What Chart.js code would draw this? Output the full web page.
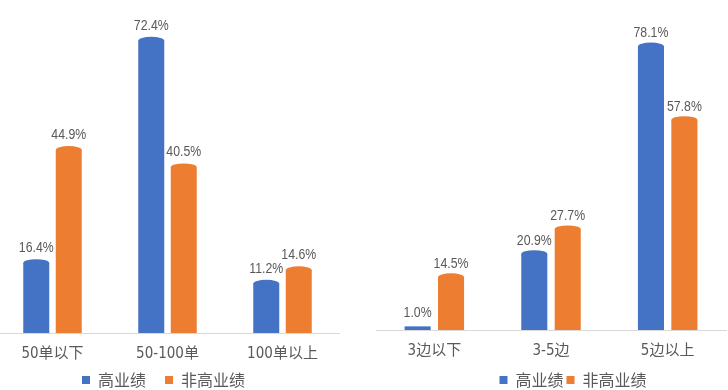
<!DOCTYPE html>
<html><head><meta charset="utf-8">
<script src="https://cdn.jsdelivr.net/npm/chart.js@4.4.1/dist/chart.umd.min.js"></script>
<style>
html,body{margin:0;padding:0;background:#fff;width:728px;height:390px;overflow:hidden;position:relative}
canvas{position:absolute;top:0}
#c1{left:-13px}
#c2{left:376px}
</style></head><body>
<canvas id="c1" width="353" height="408" style="width:353px;height:408px"></canvas>
<canvas id="c2" width="394" height="398" style="width:394px;height:398px"></canvas>
<script>
const seriesNames = ['高业绩', '非高业绩'];
const ordersCategories = ['50单以下', '50-100单', '100单以上'];
const ordersHigh = [16.4, 72.4, 11.2];
const ordersLow = [44.9, 40.5, 14.6];
const sidesCategories = ['3边以下', '3-5边', '5边以上'];
const sidesHigh = [1.0, 20.9, 78.1];
const sidesLow = [14.5, 27.7, 57.8];

const BLUE = '#4472C4', ORANGE = '#ED7D31', TEXT = '#595959', AXIS = '#D9D9D9';
const NUM_FONT = '"Liberation Sans Narrow", "DejaVu Sans Condensed", "Noto Sans CJK SC", sans-serif';
const LABEL_FONT = '"Liberation Sans", Arial, sans-serif';
const CJK_FONT = '"Noto Sans CJK SC", sans-serif';

const cylinderTop = {
  id: 'cylinderTop',
  afterDatasetsDraw(chart) {
    const ctx = chart.ctx;
    chart.data.datasets.forEach((ds, i) => {
      chart.getDatasetMeta(i).data.forEach(bar => {
        const h = bar.base - bar.y;
        if (h > 8) {
          ctx.save();
          ctx.fillStyle = ds.backgroundColor;
          ctx.beginPath();
          ctx.ellipse(bar.x, bar.y, bar.width / 2, 4, 0, 0, Math.PI * 2);
          ctx.fill();
          ctx.restore();
        }
      });
    });
  }
};

const valueLabels = {
  id: 'valueLabels',
  afterDatasetsDraw(chart, args, opts) {
    const ctx = chart.ctx;
    chart.data.datasets.forEach((ds, i) => {
      chart.getDatasetMeta(i).data.forEach((bar, j) => {
        ctx.save();
        ctx.fillStyle = TEXT;
        ctx.font = '15px ' + LABEL_FONT;
        ctx.textAlign = 'center';
        ctx.textBaseline = 'alphabetic';
        ctx.translate(bar.x, bar.y - opts.gap);
        ctx.scale(0.82, 1);
        ctx.fillText(ds.data[j].toFixed(1) + '%', 0, 0);
        ctx.restore();
      });
    });
  }
};

// place the legend row so that its text centre sits at a given y
const legendPlace = {
  id: 'legendPlace',
  afterLayout(chart, args, opts) {
    const lg = chart.legend;
    if (!lg) return;
    const pad = chart.options.plugins.legend.labels.padding;
    const h = lg.bottom - lg.top;
    lg.top = opts.textY - pad - 8;
    lg.bottom = lg.top + h;
  }
};

function makeChart(id, cats, high, low, cfg) {
  return new Chart(document.getElementById(id), {
    type: 'bar',
    data: {
      labels: cats,
      datasets: [
        { label: seriesNames[0], data: high, backgroundColor: BLUE, borderWidth: 0, base: cfg.min,
          categoryPercentage: cfg.cat, barPercentage: cfg.bar },
        { label: seriesNames[1], data: low, backgroundColor: ORANGE, borderWidth: 0, base: cfg.min,
          categoryPercentage: cfg.cat, barPercentage: cfg.bar }
      ]
    },
    options: {
      responsive: false,
      animation: false,
      devicePixelRatio: 1,
      layout: { padding: 0 },
      scales: {
        x: {
          grid: { display: false },
          border: { display: true, color: AXIS, width: 1 },
          ticks: { color: TEXT, font: { family: NUM_FONT, size: 15 }, padding: cfg.tickPad, maxRotation: 0, autoSkip: false },
          afterFit(s) { s.height = cfg.xHeight; }
        },
        y: {
          position: cfg.yPos,
          min: cfg.min, max: cfg.max,
          grid: { display: false },
          border: { display: false },
          ticks: { display: false },
          afterFit(s) { s.width = cfg.yWidth; }
        }
      },
      plugins: {
        legend: {
          position: 'bottom',
          labels: { boxWidth: 8, boxHeight: 8, padding: cfg.legendPad, color: TEXT, font: { family: CJK_FONT, size: 16 } }
        },
        tooltip: { enabled: false },
        valueLabels: { gap: cfg.gap },
        legendPlace: { textY: 380 }
      }
    },
    plugins: [cylinderTop, valueLabels, legendPlace]
  });
}

makeChart('c1', ordersCategories, ordersHigh, ordersLow, {
  min: -1.2, max: 82.68, cat: 0.565, bar: 0.8, yPos: 'left', yWidth: 8,
  xHeight: 30, tickPad: 4, legendPad: 19, gap: 11
});
makeChart('c2', sidesCategories, sidesHigh, sidesLow, {
  min: 0, max: 90.91, cat: 0.573, bar: 0.78, yPos: 'right', yWidth: 44,
  xHeight: 39, tickPad: 4, legendPad: 3, gap: 9
});
</script>
</body></html>
